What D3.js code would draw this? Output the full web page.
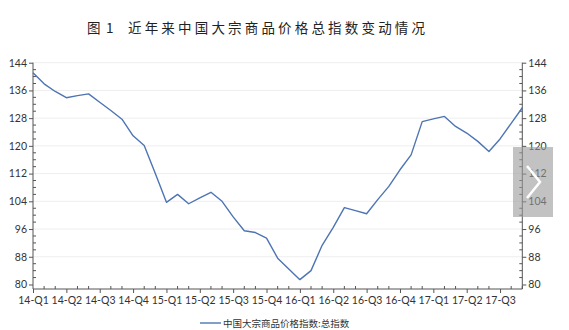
<!DOCTYPE html>
<html>
<head>
<meta charset="utf-8">
<script src="https://cdn.jsdelivr.net/npm/d3@7"></script>
<style>
  body { margin: 0; background: #fff; }
  svg { display: block; }
</style>
</head>
<body>
<div id="chart"></div>
<script>
// monthly values, Jan 2014 .. Sep 2017
const months = d3.range(45);
const values = [
  141.1, 137.9, 135.7, 133.9, 134.5, 135.0, 132.6, 130.2, 127.7, 122.9,
  120.1, 112.0, 103.7, 106.0, 103.3, 105.0, 106.6, 104.0, 99.5, 95.5,
  95.0, 93.4, 87.6, 84.5, 81.4, 84.0, 91.3, 96.5, 102.2, 101.3,
  100.4, 104.5, 108.3, 113.1, 117.4, 127.0, 127.8, 128.5, 125.6, 123.7,
  121.3, 118.4, 122.0, 126.5, 131.0
];
const quarterLabels = ["14-Q1", "14-Q2", "14-Q3", "14-Q4", "15-Q1", "15-Q2", "15-Q3", "15-Q4",
  "16-Q1", "16-Q2", "16-Q3", "16-Q4", "17-Q1", "17-Q2", "17-Q3"];
const yTicks = [80, 88, 96, 104, 112, 120, 128, 136, 144];
const seriesName = "中国大宗商品价格指数:总指数";
const titleLabel = "图";
const titleNumber = "1";
const titleText = "近年来中国大宗商品价格总指数变动情况";

let width = 569;
let height = 330;

let svg = d3.select("#chart").append("svg")
  .attr("width", width)
  .attr("height", height);

let x = d3.scaleLinear().domain([0, 44]).range([33, 522.3]);
let y = d3.scaleLinear().domain([78.7, 144]).range([289, 62.7]);

const axisColor = "#555";
const textColor = "#333";
const font = "Lato, 'Noto Sans', sans-serif";

// title: "图 1" then the caption, stretched to the width seen in the picture
let title = svg.append("text")
  .attr("y", 33)
  .style("font-family", "'Noto Sans CJK SC', sans-serif")
  .style("font-size", "13.5px")
  .style("fill", "#222");
title.append("tspan").attr("x", 87).text(titleLabel);
title.append("tspan").attr("x", 106).text(titleNumber);
svg.append("text")
  .attr("x", 128)
  .attr("y", 33)
  .attr("textLength", 297)
  .attr("lengthAdjust", "spacing")
  .style("font-family", "'Noto Sans CJK SC', sans-serif")
  .style("font-size", "13.5px")
  .style("fill", "#222")
  .text(titleText);

// gridlines
svg.append("g")
  .selectAll("line")
  .data(yTicks.filter(d => d > 80))
  .enter()
  .append("line")
  .attr("x1", x(0))
  .attr("x2", x(44))
  .attr("y1", d => y(d))
  .attr("y2", d => y(d))
  .attr("stroke", "#eeeeee")
  .attr("stroke-width", 1);

// minor ticks every 2 units
const minor = d3.range(80, 144.1, 2).filter(d => d % 8 !== 0);

// left axis
let left = svg.append("g").attr("transform", `translate(${x(0)},0)`);
left.call(d3.axisLeft(y).tickValues(yTicks).tickSize(4).tickPadding(2).tickSizeOuter(0));
left.select(".domain").attr("d", `M0,${y(144)}V${y(78.7)}`);
left.selectAll(".minor")
  .data(minor)
  .enter()
  .append("line")
  .attr("class", "minor")
  .attr("x1", 0).attr("x2", 3)
  .attr("y1", d => y(d)).attr("y2", d => y(d));

// right axis
let right = svg.append("g").attr("transform", `translate(${x(44)},0)`);
right.call(d3.axisRight(y).tickValues(yTicks).tickSize(4).tickPadding(2).tickSizeOuter(0));
right.select(".domain").attr("d", `M0,${y(144)}V${y(78.7)}`);
right.selectAll(".minor")
  .data(minor)
  .enter()
  .append("line")
  .attr("class", "minor")
  .attr("x1", 0).attr("x2", -3)
  .attr("y1", d => y(d)).attr("y2", d => y(d));

// bottom axis (quarters), month minor ticks
let bottom = svg.append("g").attr("transform", `translate(0,${y(78.7)})`);
bottom.call(d3.axisBottom(x)
  .tickValues(d3.range(0, 43, 3))
  .tickFormat((d, i) => quarterLabels[i])
  .tickSize(4)
  .tickPadding(4)
  .tickSizeOuter(0));
bottom.select(".domain").attr("d", `M${x(0)},0H${x(44)}`);
bottom.selectAll(".minor")
  .data(months.filter(d => d % 3 !== 0))
  .enter()
  .append("line")
  .attr("class", "minor")
  .attr("x1", d => x(d)).attr("x2", d => x(d))
  .attr("y1", 0).attr("y2", -3);

svg.selectAll(".domain, line.minor, .tick line").attr("stroke", axisColor);
svg.selectAll(".tick text")
  .style("font-family", font)
  .style("font-size", "10.5px")
  .style("fill", textColor);

// series line
let line = d3.line()
  .x((d, i) => x(months[i]))
  .y(d => y(d));

svg.append("path")
  .datum(values)
  .attr("d", line)
  .attr("fill", "none")
  .attr("stroke", "#4d74b3")
  .attr("stroke-width", 1.4)
  .attr("stroke-linejoin", "round");

// legend
let legend = svg.append("g").attr("transform", "translate(200,323)");
legend.append("line")
  .attr("x1", 0).attr("x2", 21)
  .attr("y1", 0).attr("y2", 0)
  .attr("stroke", "#4d74b3")
  .attr("stroke-width", 1.4);
legend.append("text")
  .attr("x", 23)
  .attr("y", 3.5)
  .style("font-family", "'Noto Sans CJK SC', sans-serif")
  .style("font-size", "9.5px")
  .style("fill", textColor)
  .text(seriesName);

// grey overlay with chevron on the right side
let nav = svg.append("g");
nav.append("rect")
  .attr("x", 513).attr("y", 147)
  .attr("width", 40).attr("height", 70)
  .attr("fill", "#999")
  .attr("opacity", 0.6);
nav.append("path")
  .attr("d", "M527,166L540,182L527,198")
  .attr("fill", "none")
  .attr("stroke", "#fff")
  .attr("stroke-width", 2.5);
</script>
</body>
</html>
